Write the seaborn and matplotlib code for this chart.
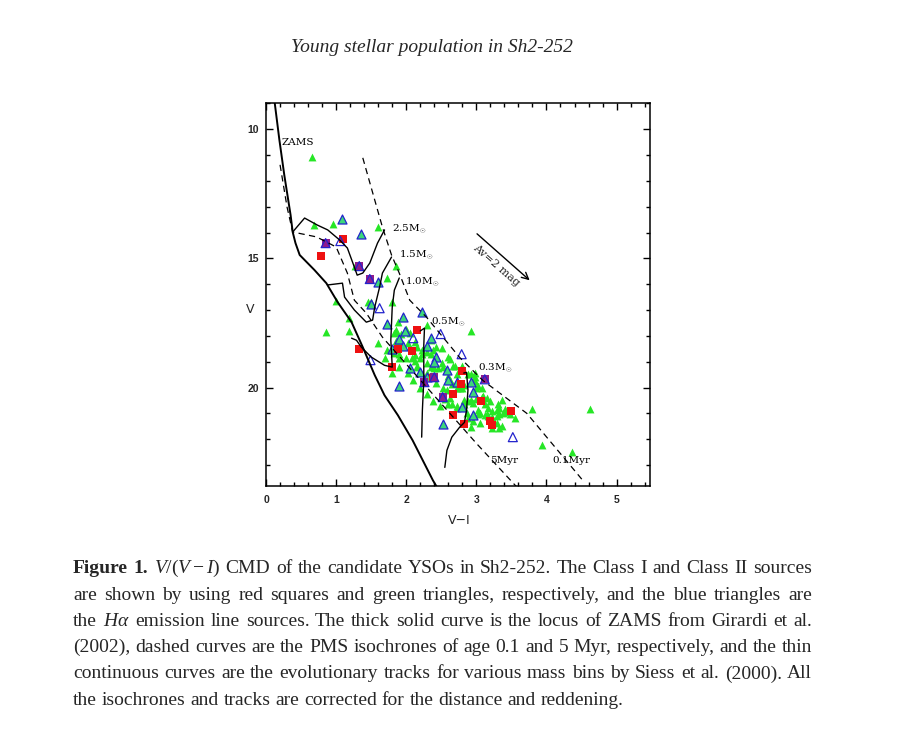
import numpy as np
import pandas as pd
import seaborn as sns
import matplotlib.pyplot as plt

# ---- curves (V-I, V) ----
zams_vi = [0.12, 0.19, 0.26, 0.35, 0.38, 0.42, 0.48, 0.69, 0.86, 1.02, 1.22, 1.38, 1.55, 1.69, 1.88, 2.09, 2.38, 2.48]
zams_v = [8.9, 10.41, 11.77, 13.32, 13.98, 14.41, 14.87, 15.45, 15.96, 16.69, 17.47, 18.44, 19.52, 20.30, 21.07, 22.04, 23.59, 24.05]

iso5_vi = [0.20, 0.30, 0.38, 0.72, 1.00, 1.16, 1.26, 1.43, 1.66, 3.00, 3.58]
iso5_v = [11.38, 13.02, 13.98, 14.17, 14.56, 15.57, 16.62, 17.12, 18.05, 22.16, 23.86]

iso01_vi = [1.38, 1.55, 1.66, 1.79, 1.90, 2.05, 2.29, 2.76, 3.09, 3.72, 4.52]
iso01_v = [11.11, 12.74, 13.79, 14.87, 15.57, 16.62, 17.28, 18.83, 19.72, 21.0, 23.6]

trk25_vi = [0.38, 0.55, 0.73, 0.88, 1.05, 1.16, 1.26, 1.30, 1.38, 1.48, 1.59, 1.69]
trk25_v = [13.98, 13.44, 13.71, 13.90, 14.29, 14.60, 15.34, 15.65, 15.57, 15.18, 14.41, 13.90]

trk15_vi = [0.88, 1.09, 1.12, 1.26, 1.43, 1.52, 1.55, 1.62, 1.66, 1.79]
trk15_v = [16.03, 15.96, 16.50, 17.00, 17.47, 17.39, 16.89, 16.11, 15.57, 14.95]

trk10_vi = [1.22, 1.29, 1.36, 1.50, 1.69, 1.80, 1.79, 1.78, 1.79, 1.80, 1.83, 1.90]
trk10_v = [18.09, 18.17, 18.44, 18.82, 19.14, 19.21, 18.67, 18.17, 17.51, 16.89, 16.23, 15.76]

trk05_vi = [2.20, 2.26, 2.25, 2.25, 2.23, 2.22]
trk05_v = [17.81, 17.70, 18.36, 19.72, 20.88, 21.92]

trk03_vi = [2.82, 2.86, 2.88, 2.86, 2.83, 2.76, 2.65, 2.58, 2.55]
trk03_v = [19.44, 19.41, 20.10, 20.88, 21.35, 21.54, 21.92, 22.43, 23.09]

# ---- sources ----
class1_vi = [0.78, 1.10, 1.33, 1.80, 1.88, 2.08, 2.16, 2.38, 2.79, 2.78, 2.66, 3.06, 2.66, 2.82, 3.19, 3.23, 3.50]
class1_v = [14.91, 14.25, 18.51, 19.21, 18.51, 18.59, 17.78, 19.64, 19.37, 19.87, 20.26, 20.53, 21.08, 21.43, 21.31, 21.46, 20.92]

ha_c1_vi = [0.85, 1.33, 1.48, 2.26, 2.40, 2.52, 3.12]
ha_c1_v = [14.41, 15.30, 15.80, 19.79, 19.60, 20.37, 19.68]

ha_c2_vi = [1.09, 1.36, 1.59, 1.49, 1.72, 1.96, 2.23, 1.98, 1.89, 1.79, 1.96, 2.06, 1.90, 2.29, 2.36,
            2.19, 2.43, 2.40, 2.30, 2.58, 2.59, 2.73, 2.93, 2.95, 2.79, 2.95, 2.53]
ha_c2_v = [13.48, 14.06, 15.92, 16.77, 17.55, 17.27, 17.08, 17.82, 18.13, 18.51, 18.40, 19.25, 19.95, 18.40, 18.09,
           19.41, 18.82, 19.02, 19.60, 19.33, 19.72, 19.79, 19.79, 20.18, 20.76, 21.07, 21.42]

ha_only_vi = [1.06, 1.62, 2.10, 1.49, 2.79, 2.49, 3.52]
ha_only_v = [14.33, 16.93, 18.09, 18.94, 18.71, 17.93, 21.92]

class2_vi = [0.66, 0.68, 0.96, 1.59, 1.27, 1.72, 1.85, 1.00, 1.19, 1.19, 0.86, 1.49, 1.80, 1.60, 1.88, 2.00,
             2.29, 2.93, 1.86, 1.93, 1.86, 1.90, 1.90, 2.16, 2.19, 2.12, 2.16, 2.08, 2.30, 2.36, 2.38, 2.51,
             2.59, 2.51, 2.45, 2.66, 2.72, 2.59, 2.43, 2.52, 2.65, 2.72, 2.80, 2.62, 2.59, 2.72, 2.88, 2.95,
             3.00, 2.93, 2.98, 3.08, 3.15, 3.12, 3.33, 3.38, 3.29, 3.15, 3.05, 2.88, 2.95, 3.23, 3.33, 3.55,
             3.80, 3.93, 3.05, 2.93, 2.86, 2.48, 2.38, 2.29, 2.19, 2.09, 2.02, 1.80, 2.80, 2.88, 2.52, 2.62,
             2.58, 2.76, 3.02, 3.09, 3.19, 3.31, 3.41, 3.48, 3.33, 3.23, 3.02, 2.83, 3.16, 3.29, 3.36, 4.62,
             4.36, 1.83, 2.05, 1.90, 2.02, 2.12, 2.12, 2.00, 2.29, 2.36, 2.23, 2.30, 2.40, 2.62, 2.69, 2.98,
             2.98, 2.83, 3.00, 3.08, 3.29, 3.36, 3.41, 3.16, 3.22, 3.12, 3.02, 2.55, 2.65, 2.73, 2.93, 2.83,
             2.43, 1.72, 1.85, 1.83, 1.72, 1.69, 1.90, 2.22, 2.15, 2.36, 1.45]
class2_v = [11.08, 13.71, 13.67, 13.79, 15.30, 15.76, 15.30, 16.66, 17.31, 17.82, 17.86, 16.70, 16.70, 18.28, 17.47, 17.74,
            17.59, 17.82, 17.86, 17.94, 18.21, 18.71, 18.86, 18.44, 18.86, 18.98, 19.17, 18.86, 18.63, 18.17, 18.55, 18.47,
            18.82, 19.06, 19.25, 19.17, 19.48, 19.56, 19.83, 20.03, 19.87, 20.03, 20.03, 20.41, 20.64, 20.72, 20.53, 20.60,
            20.45, 19.48, 19.75, 20.03, 20.41, 20.64, 20.80, 20.99, 21.11, 21.03, 20.99, 21.19, 21.31, 21.58, 21.58, 21.19,
            20.84, 22.24, 21.38, 21.54, 21.00, 20.72, 20.52, 20.26, 20.03, 19.72, 19.45, 19.45, 19.17, 19.48, 19.21, 19.72,
            20.10, 20.03, 19.95, 20.33, 20.53, 20.64, 20.84, 21.03, 21.03, 20.92, 21.03, 20.64, 21.11, 21.38, 21.50, 20.84,
            22.51, 17.90, 17.90, 18.25, 18.28, 18.25, 18.75, 18.86, 19.06, 18.71, 18.71, 19.45, 19.25, 18.90, 19.17, 19.60,
            19.45, 19.91, 20.03, 20.37, 20.88, 20.49, 20.96, 20.80, 21.15, 21.07, 20.88, 20.45, 20.64, 20.80, 20.49, 20.49,
            18.44, 17.51, 17.78, 18.67, 18.55, 18.86, 19.21, 18.55, 19.21, 19.21, 16.70]

track_labels = ["2.5M$_{\\odot}$", "1.5M$_{\\odot}$", "1.0M$_{\\odot}$", "0.5M$_{\\odot}$", "0.3M$_{\\odot}$"]
track_label_vi = [1.79, 1.89, 1.98, 2.36, 3.03]
track_label_v = [13.83, 14.87, 15.88, 17.43, 19.21]

caption = [
    "Figure 1. $V/(V-I)$ CMD of the candidate YSOs in Sh2-252. The Class I and Class II sources",
    "are shown by using red squares and green triangles, respectively, and the blue triangles are",
    "the $H\\alpha$ emission line sources. The thick solid curve is the locus of ZAMS from Girardi et al.",
    "(2002), dashed curves are the PMS isochrones of age 0.1 and 5 Myr, respectively, and the thin",
    "continuous curves are the evolutionary tracks for various mass bins by Siess et al. (2000). All",
    "the isochrones and tracks are corrected for the distance and reddening.",
]

sns.set_style("ticks")
plt.rcParams["font.family"] = ["DejaVu Sans"]
plt.rcParams["mathtext.fontset"] = "custom"
plt.rcParams["mathtext.rm"] = "Liberation Serif"
plt.rcParams["mathtext.it"] = "Liberation Serif:italic"
plt.rcParams["mathtext.bf"] = "Liberation Serif:bold"

fig = plt.figure(figsize=(9, 7.46), dpi=100)
ax = fig.add_axes([0.2956, 0.3489, 0.4261, 0.5126])

# curves
sns.lineplot(x=zams_vi, y=zams_v, sort=False, estimator=None, color="k", lw=1.4, ax=ax)
for vi, v in [(iso5_vi, iso5_v), (iso01_vi, iso01_v)]:
    sns.lineplot(x=vi, y=v, sort=False, estimator=None, color="k", lw=0.9,
                 linestyle=(0, (5, 3.5)), ax=ax)
for vi, v in [(trk25_vi, trk25_v), (trk15_vi, trk15_v), (trk10_vi, trk10_v),
              (trk05_vi, trk05_v), (trk03_vi, trk03_v)]:
    sns.lineplot(x=vi, y=v, sort=False, estimator=None, color="k", lw=1.0, ax=ax)

green = "#26e626"
blue = "#2323cc"
sns.scatterplot(x=class2_vi, y=class2_v, marker="^", s=32, color=green, linewidth=0, ax=ax)
sns.scatterplot(x=ha_c2_vi, y=ha_c2_v, marker="^", s=42, color="#3cd87a", edgecolor=blue,
                linewidth=0.9, ax=ax)
sns.scatterplot(x=class1_vi, y=class1_v, marker="s", s=30, color="#ee1111", linewidth=0, ax=ax)
sns.scatterplot(x=ha_c1_vi, y=ha_c1_v, marker="s", s=30, color="#8e1c8e", linewidth=0, ax=ax)
sns.scatterplot(x=ha_c1_vi + ha_only_vi, y=ha_c1_v + ha_only_v, marker="^", s=42, color="w",
                edgecolor=blue, linewidth=0.9, ax=ax)
ax.collections[-1].set_facecolor("none")

# labels inside the panel
lab = dict(family="DejaVu Serif", fontsize=7.5, color="k", va="center", ha="left")
ax.text(0.22, 10.53, "ZAMS", **lab)
for t, x, y in zip(track_labels, track_label_vi, track_label_v):
    ax.text(x, y, t, **lab)
ax.text(3.19, 22.82, "5Myr", **lab)
ax.text(4.09, 22.82, "0.1Myr", **lab)
ax.annotate("", xy=(3.79, 15.92), xytext=(2.98, 13.98),
            arrowprops=dict(arrowstyle="->", color="k", lw=1.0, mutation_scale=12))
ax.text(3.28, 15.26, "Av=2 mag", family="DejaVu Serif", fontsize=8, rotation=-41,
        rotation_mode="anchor", ha="center", va="center")

ax.set_xlim(0, 5.47)
ax.set_ylim(23.8, 9.0)
ax.set_xticks([0, 1, 2, 3, 4, 5])
ax.set_yticks([10, 15, 20])
ax.set_xticks(np.arange(0, 5.5, 0.2), minor=True)
ax.set_yticks(np.arange(9, 24, 1), minor=True)
ax.tick_params(which="both", direction="in", top=True, right=True, width=1.0, color="k")
ax.tick_params(which="major", length=5)
ax.tick_params(which="minor", length=3)
ax.tick_params(axis="x", pad=7)
ax.tick_params(axis="y", pad=5)
for tl in ax.get_xticklabels() + ax.get_yticklabels():
    tl.set_family("Liberation Sans")
    tl.set_fontsize(7.5)
    tl.set_fontweight("bold")
for sp in ax.spines.values():
    sp.set_linewidth(1.1)
    sp.set_color("k")
ax.set_xlabel("V\u2212I", family="DejaVu Sans", fontsize=9)
ax.set_ylabel("V", family="DejaVu Sans", fontsize=9, rotation=0)
ax.xaxis.set_label_coords(0.504, -0.074)
ax.yaxis.set_label_coords(-0.042, 0.444)

# running head
fig.text(432 / 900, 1 - 52 / 746, "Young stellar population in Sh2-252", family="Liberation Serif",
         style="italic", fontsize=14, ha="center", va="baseline")

# justified caption
renderer = fig.canvas.get_renderer()
x0, x1 = 73 / 900, 812 / 900
baselines = [573, 599.5, 626, 652, 678.5, 705]
for i, line in enumerate(caption):
    words = line.split(" ")
    arts = []
    for j, w in enumerate(words):
        kw = dict(family="Liberation Serif", fontsize=14, va="baseline", ha="left")
        if i == 0 and j < 2:
            kw["fontweight"] = "bold"
        arts.append(fig.text(0, 1 - baselines[i] / 746, w, **kw))
    widths = [a.get_window_extent(renderer).width / 900 for a in arts]
    if i < len(caption) - 1:
        gap = (x1 - x0 - sum(widths)) / (len(words) - 1)
    else:
        gap = 4.9 / 900
    x = x0
    for a, w in zip(arts, widths):
        a.set_x(x)
        x += w + gap

fig.savefig("out.png", dpi=100)
